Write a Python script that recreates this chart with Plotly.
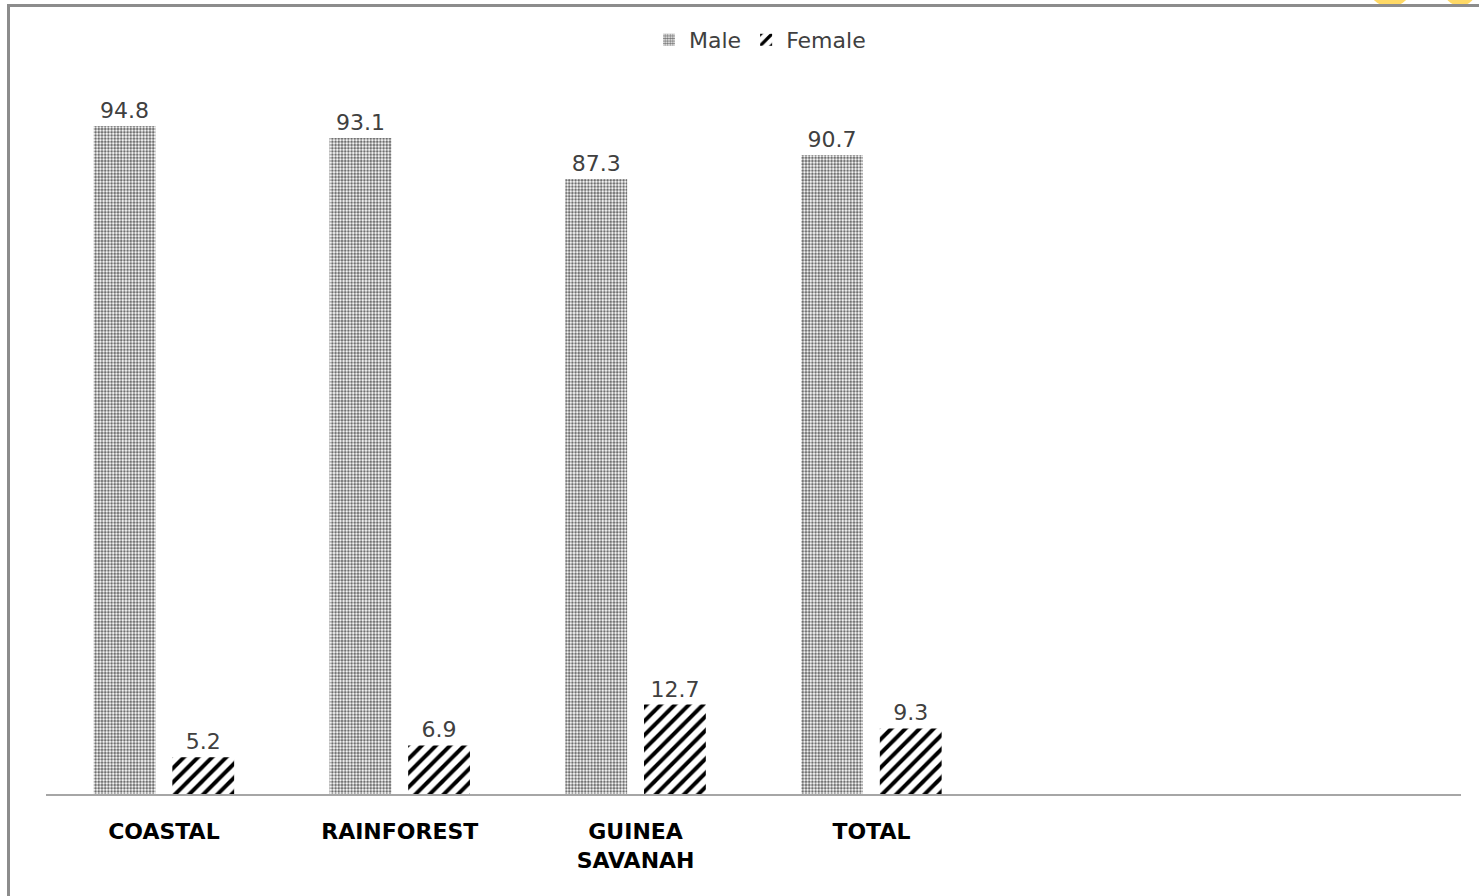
import plotly.graph_objects as go

categories = ["COASTAL", "RAINFOREST", "GUINEA<br>SAVANAH", "TOTAL"]
male = [94.8, 93.1, 87.3, 90.7]
female = [5.2, 6.9, 12.7, 9.3]
n_slots = 6  # category slots on the axis (last two empty)

W, H = 1479, 896
L, R, T, B = 46, 18, 89, 102
pw, ph = W - L - R, H - T - B

def px(x):  # screen x -> paper
    return (x - L) / pw

def py(y):  # screen y -> paper
    return (H - B - y) / ph

xpos = list(range(len(categories)))

fig = go.Figure()
fig.add_trace(go.Bar(
    name="Male", x=xpos, y=male,
    text=[f"{v:.1f}" for v in male], textposition="outside",
    textfont=dict(family="DejaVu Sans", size=22, color="#404040"),
    marker=dict(color="white", line=dict(width=0),
                pattern=dict(shape=".", size=3.2, solidity=0.55, fgopacity=0.65,
                             fgcolor="#222222", bgcolor="white", fillmode="overlay")),
    cliponaxis=False,
))
fig.add_trace(go.Bar(
    name="Female", x=xpos, y=female,
    text=[f"{v:.1f}" for v in female], textposition="outside",
    textfont=dict(family="DejaVu Sans", size=22, color="#404040"),
    marker=dict(color="white", line=dict(width=0),
                pattern=dict(shape="/", size=10, solidity=0.4, fgopacity=1,
                             fgcolor="black", bgcolor="white", fillmode="overlay")),
    cliponaxis=False,
))

fig.update_layout(
    width=W, height=H,
    margin=dict(l=L, r=R, t=T, b=B, pad=0),
    paper_bgcolor="white", plot_bgcolor="white",
    barmode="group", bargap=0.333, bargroupgap=0.214,
    showlegend=True,
    legend=dict(orientation="h", x=px(760), xanchor="center", y=py(40), yanchor="middle",
                font=dict(family="DejaVu Sans", size=22, color="#404040"),
                itemwidth=30, traceorder="normal", bgcolor="rgba(0,0,0,0)"),
    xaxis=dict(range=[-0.5, n_slots - 0.5], tickvals=xpos, ticktext=categories,
               showline=True, linecolor="#a6a6a6", linewidth=1.5,
               showgrid=False, zeroline=False, ticks="", ticklabelstandoff=17,
               tickfont=dict(family="DejaVu Sans", size=22, color="black", weight="bold")),
    yaxis=dict(range=[0, 100.06], visible=False, showgrid=False, zeroline=False),
)

# frame (left and top edges of the cropped chart border)
fig.add_shape(type="line", xref="paper", yref="paper",
              x0=px(8.5), x1=px(8.5), y0=py(906), y1=py(5.5),
              line=dict(color="#8c8c8c", width=3), layer="above")
fig.add_shape(type="line", xref="paper", yref="paper",
              x0=px(7), x1=px(1490), y0=py(5.5), y1=py(5.5),
              line=dict(color="#8c8c8c", width=3), layer="above")
# yellow watermark fragments at top right
fig.add_shape(type="circle", xref="paper", yref="paper",
              x0=px(1368), x1=px(1412), y0=py(-37), y1=py(7),
              fillcolor="#ffd966", line=dict(width=0), layer="below")
fig.add_shape(type="circle", xref="paper", yref="paper",
              x0=px(1444), x1=px(1476), y0=py(-26), y1=py(6),
              fillcolor="#ffd966", line=dict(width=0), layer="below")

fig.write_html("out.html", config={"displayModeBar": False},
               post_script="document.body.style.margin='0';document.body.style.overflow='hidden';")
